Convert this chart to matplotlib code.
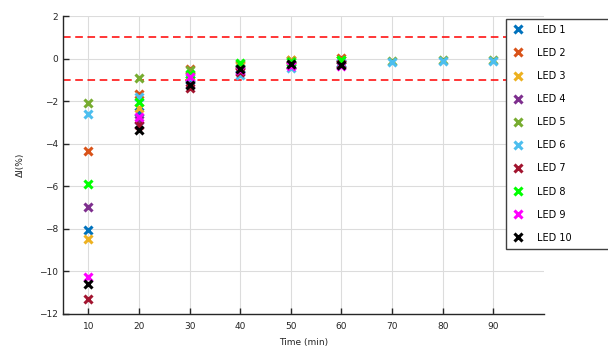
import numpy as np
import matplotlib.pyplot as plt

# Messpunkte (Zeit in min)
time_min = [10, 20, 30, 40, 50, 60, 70, 80, 90]
nan = np.nan

led_names = ["LED 1", "LED 2", "LED 3", "LED 4", "LED 5",
             "LED 6", "LED 7", "LED 8", "LED 9", "LED 10"]

led1 = [-8.07, -2.50, -1.00, -0.45, -0.30, -0.20, nan, nan, nan]
led2 = [-4.33, -1.67, -0.50, -0.30, -0.05, 0.05, nan, nan, nan]
led3 = [-8.47, -2.33, -0.80, -0.35, -0.05, -0.05, nan, nan, nan]
led4 = [-6.96, -2.90, -1.20, -0.60, -0.30, -0.25, nan, nan, nan]
led5 = [-2.10, -0.90, -0.55, -0.25, -0.10, -0.05, -0.10, -0.05, -0.05]
led6 = [-2.62, -1.80, -0.90, -0.75, -0.45, -0.20, -0.15, -0.10, -0.10]
led7 = [-11.30, -3.10, -1.40, -0.65, -0.30, -0.25, nan, nan, nan]
led8 = [-5.90, -2.03, -0.70, -0.20, -0.15, -0.05, nan, nan, nan]
led9 = [-10.26, -2.73, -0.85, -0.55, -0.35, -0.35, nan, nan, nan]
led10 = [-10.57, -3.36, -1.25, -0.50, -0.25, -0.30, nan, nan, nan]

led_values = [led1, led2, led3, led4, led5, led6, led7, led8, led9, led10]
led_colors = ["#0072BD", "#D95319", "#EDB120", "#7E2F8E", "#77AC30",
              "#4DBEEE", "#A2142F", "#00FF00", "#FF00FF", "#000000"]

tol_upper = 1.0
tol_lower = -1.0

fig = plt.figure(figsize=(6.08, 3.5), dpi=100)
ax = fig.add_axes([0.1036, 0.1029, 0.7911, 0.8511])

for name, vals, col in zip(led_names, led_values, led_colors):
    ax.plot(time_min, vals, linestyle="none", marker="x", markersize=6,
            markeredgewidth=2.2, color=col, label=name, zorder=3)

ax.axhline(tol_upper, color="#FF0000", linestyle=(0, (5, 3)), linewidth=1.1, zorder=2)
ax.axhline(tol_lower, color="#FF0000", linestyle=(0, (5, 3)), linewidth=1.1, zorder=2)

ax.set_xlim(5, 100)
ax.set_ylim(-12, 2)
ax.set_xticks(np.arange(10, 100, 10))
ax.set_yticks(np.arange(-12, 3, 2))

ax.grid(True, color="#DCDCDC", linewidth=0.8, zorder=0)
ax.set_axisbelow(True)
for s in ["top", "right"]:
    ax.spines[s].set_visible(False)
for s in ["left", "bottom"]:
    ax.spines[s].set_color("#262626")
    ax.spines[s].set_linewidth(1.0)
ax.tick_params(direction="in", length=4, width=1.0, color="#262626",
               labelsize=6.5, labelcolor="#262626")
ax.tick_params(axis="x", pad=6)

ax.set_xlabel("Time (min)", fontsize=6.5, color="#262626", labelpad=5)
ax.set_ylabel("ΔI(%)", fontsize=6.5, color="#262626", labelpad=10)

# Legende rechts, teilweise über den Rand hinaus (wie im Original)
leg = fig.legend(loc="upper left", bbox_to_anchor=(0.832, 0.274, 0.2, 0.672),
                 mode="expand", fontsize=7, frameon=True, fancybox=False,
                 labelspacing=1.35, handletextpad=1.2, borderpad=0.6,
                 handlelength=1.4, borderaxespad=0)
leg.get_frame().set_edgecolor("#404040")
leg.get_frame().set_linewidth(1.0)
leg.get_frame().set_alpha(1.0)

fig.savefig("out.png", dpi=100)
